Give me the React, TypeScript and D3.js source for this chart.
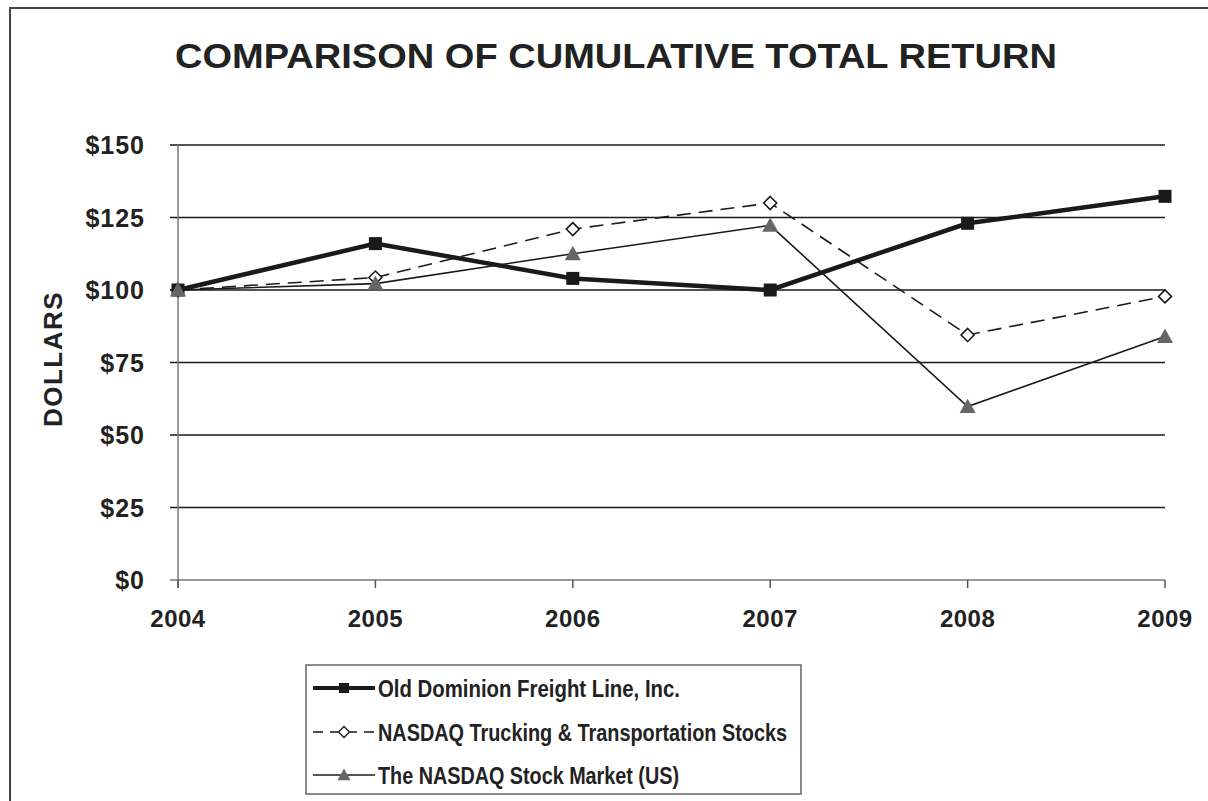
import React from "react";
import * as d3 from "d3";

// years on the x axis
const years = ["2004", "2005", "2006", "2007", "2008", "2009"];

// cumulative total return, $100 invested in 2004
const oldDominion = [100, 116, 104, 100, 123, 132.3];
const nasdaqTrucking = [100, 104.3, 121, 130, 84.5, 97.8];
const nasdaqMarket = [100, 102.2, 112.5, 122.3, 59.8, 84];

const yTicks = [0, 25, 50, 75, 100, 125, 150];

const seriesNames = [
  "Old Dominion Freight Line, Inc.",
  "NASDAQ Trucking & Transportation Stocks",
  "The NASDAQ Stock Market (US)",
];

const W = 1208;
const H = 801;
const FONT = "'Liberation Sans', Arial, Helvetica, sans-serif";

function square(cx: number, cy: number, s: number) {
  const p = d3.path();
  p.rect(cx - s / 2, cy - s / 2, s, s);
  return p.toString();
}

function diamond(cx: number, cy: number, r: number) {
  const p = d3.path();
  p.moveTo(cx, cy - r);
  p.lineTo(cx + r, cy);
  p.lineTo(cx, cy + r);
  p.lineTo(cx - r, cy);
  p.closePath();
  return p.toString();
}

function triangle(cx: number, cy: number, w: number) {
  const h = w * 0.9;
  const p = d3.path();
  p.moveTo(cx, cy - h * 0.55);
  p.lineTo(cx + w / 2, cy + h * 0.45);
  p.lineTo(cx - w / 2, cy + h * 0.45);
  p.closePath();
  return p.toString();
}

export default function App() {
  const x = d3.scalePoint<string>().domain(years).range([178, 1165]);
  const y = d3.scaleLinear().domain([0, 150]).range([580, 145]);

  const line = d3
    .line<number>()
    .x((_, i) => x(years[i]) as number)
    .y((d) => y(d));

  const legendRows = [688, 732, 775];
  const legendLengths = [302, 409, 301];

  return (
    <svg
      width={W}
      height={H}
      style={{ position: "absolute", left: 0, top: 0, background: "#fff" }}
    >
      {/* outer frame (cropped) */}
      <path d={`M10,${H} L10,8 L${W},8`} fill="none" stroke="#444" strokeWidth={2} />

      <text
        x={616}
        y={68}
        textAnchor="middle"
        fontFamily={FONT}
        fontWeight="bold"
        fontSize={35}
        fill="#222"
        textLength={882}
        lengthAdjust="spacingAndGlyphs"
      >
        COMPARISON OF CUMULATIVE TOTAL RETURN
      </text>

      {/* horizontal gridlines */}
      {yTicks.map((t) => (
        <g key={t}>
          <line
            x1={170}
            x2={1165}
            y1={y(t)}
            y2={y(t)}
            stroke={t === 0 ? "#777" : "#1a1a1a"}
            strokeWidth={t === 0 ? 1.5 : 1.6}
          />
          <text
            x={145}
            y={y(t) + 9}
            textAnchor="end"
            fontFamily={FONT}
            fontWeight="bold"
            fontSize={25}
            fill="#222"
            letterSpacing={1}
          >
            {`$${t}`}
          </text>
        </g>
      ))}

      {/* y axis */}
      <line x1={178} x2={178} y1={y(150)} y2={588} stroke="#777" strokeWidth={1.5} />

      {/* x ticks and labels */}
      {years.map((yr) => (
        <g key={yr}>
          <line
            x1={x(yr)}
            x2={x(yr)}
            y1={580}
            y2={588}
            stroke="#555"
            strokeWidth={1.5}
          />
          <text
            x={x(yr)}
            y={627}
            textAnchor="middle"
            fontFamily={FONT}
            fontWeight="bold"
            fontSize={24}
            fill="#222"
            letterSpacing={0.5}
          >
            {yr}
          </text>
        </g>
      ))}

      <text
        transform="translate(62,359) rotate(-90)"
        textAnchor="middle"
        fontFamily={FONT}
        fontWeight="bold"
        fontSize={26}
        fill="#222"
        letterSpacing={1.5}
      >
        DOLLARS
      </text>

      {/* NASDAQ market */}
      <path d={line(nasdaqMarket) ?? ""} fill="none" stroke="#1a1a1a" strokeWidth={1.6} />
      {/* NASDAQ trucking */}
      <path
        d={line(nasdaqTrucking) ?? ""}
        fill="none"
        stroke="#1a1a1a"
        strokeWidth={1.6}
        strokeDasharray="14 8"
      />
      {/* Old Dominion */}
      <path d={line(oldDominion) ?? ""} fill="none" stroke="#1a1a1a" strokeWidth={4.5} />

      {nasdaqTrucking.map((v, i) => (
        <path
          key={"d" + i}
          d={diamond(x(years[i]) as number, y(v), 6.5)}
          fill="#fff"
          stroke="#1a1a1a"
          strokeWidth={1.6}
        />
      ))}
      {oldDominion.map((v, i) => (
        <path key={"s" + i} d={square(x(years[i]) as number, y(v), 13)} fill="#1a1a1a" />
      ))}
      {nasdaqMarket.map((v, i) => (
        <path key={"t" + i} d={triangle(x(years[i]) as number, y(v), 16)} fill="#666" />
      ))}

      {/* legend */}
      <rect x={306} y={665} width={495} height={129} fill="#fff" stroke="#666" strokeWidth={1.5} />
      <line x1={313} x2={375} y1={legendRows[0]} y2={legendRows[0]} stroke="#1a1a1a" strokeWidth={4} />
      <path d={square(344, legendRows[0], 10)} fill="#1a1a1a" />
      <line
        x1={313}
        x2={375}
        y1={legendRows[1]}
        y2={legendRows[1]}
        stroke="#1a1a1a"
        strokeWidth={1.6}
        strokeDasharray="10 7"
      />
      <path d={diamond(344, legendRows[1], 5.5)} fill="#fff" stroke="#1a1a1a" strokeWidth={1.3} />
      <line x1={313} x2={375} y1={legendRows[2]} y2={legendRows[2]} stroke="#1a1a1a" strokeWidth={1.6} />
      <path d={triangle(344, legendRows[2], 13)} fill="#666" />

      {seriesNames.map((name, i) => (
        <text
          key={name}
          x={378}
          y={legendRows[i] + 9}
          fontFamily={FONT}
          fontWeight="bold"
          fontSize={24}
          fill="#222"
          textLength={legendLengths[i]}
          lengthAdjust="spacingAndGlyphs"
        >
          {name}
        </text>
      ))}
    </svg>
  );
}
